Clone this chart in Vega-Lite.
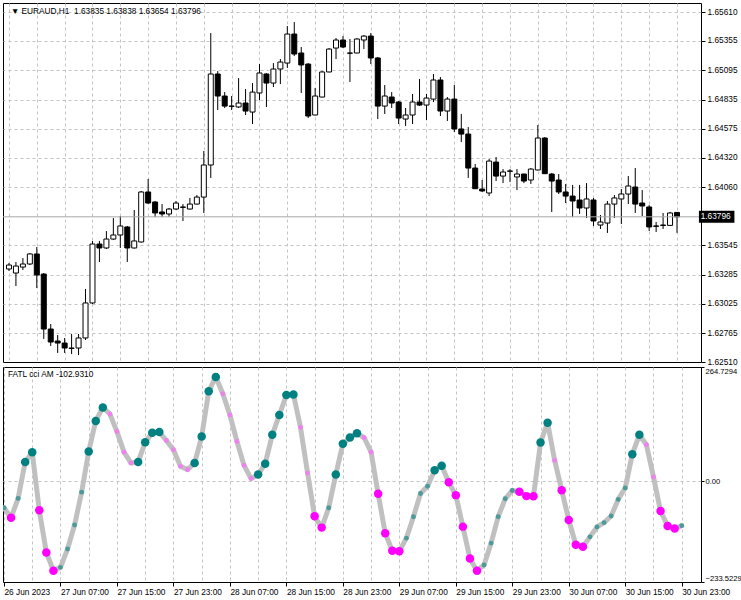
{
  "$schema": "https://vega.github.io/schema/vega-lite/v6.json",
  "background": "white",
  "padding": {"left": 2, "top": 2, "right": 0, "bottom": 0},
  "spacing": 0,
  "config": {
    "font": "Liberation Sans",
    "view": {"stroke": "#000000", "strokeWidth": 1},
    "axis": {
      "labelFont": "Liberation Sans",
      "labelFontSize": 8.3,
      "labelColor": "#000000",
      "tickColor": "#000000",
      "domain": false,
      "gridColor": "#c4c4c4",
      "gridDash": [3, 3],
      "gridWidth": 1,
      "tickCount": 200,
      "title": null
    },
    "text": {"font": "Liberation Sans", "fontSize": 8.3, "color": "#000000"}
  },
  "datasets": {
    "bars": [
      {"i":0,"t":"2023-06-26 23:00","o":1.63334,"h":1.63387,"l":1.63316,"c":1.63369,"cci":-61.5,"s":"up<0"},
      {"i":1,"t":"2023-06-27 00:00","o":1.63298,"h":1.63396,"l":1.63183,"c":1.63360,"cci":-84.5,"s":"down<0"},
      {"i":2,"t":"2023-06-27 01:00","o":1.63351,"h":1.63431,"l":1.63325,"c":1.63378,"cci":-39.8,"s":"up<0"},
      {"i":3,"t":"2023-06-27 02:00","o":1.63378,"h":1.63475,"l":1.63369,"c":1.63467,"cci":44.4,"s":"up>0"},
      {"i":4,"t":"2023-06-27 03:00","o":1.63467,"h":1.63529,"l":1.63165,"c":1.63281,"cci":67.4,"s":"up>0"},
      {"i":5,"t":"2023-06-27 04:00","o":1.63289,"h":1.63298,"l":1.62714,"c":1.62802,"cci":-67.4,"s":"down<0"},
      {"i":6,"t":"2023-06-27 05:00","o":1.62802,"h":1.62847,"l":1.62652,"c":1.62687,"cci":-165.1,"s":"down<0"},
      {"i":7,"t":"2023-06-27 06:00","o":1.62696,"h":1.62749,"l":1.62590,"c":1.62678,"cci":-207.2,"s":"down<0"},
      {"i":8,"t":"2023-06-27 07:00","o":1.62678,"h":1.62723,"l":1.62590,"c":1.62634,"cci":-199.6,"s":"up<0"},
      {"i":9,"t":"2023-06-27 08:00","o":1.62630,"h":1.62758,"l":1.62581,"c":1.62634,"cci":-157.2,"s":"up<0"},
      {"i":10,"t":"2023-06-27 09:00","o":1.62634,"h":1.62758,"l":1.62572,"c":1.62723,"cci":-101.3,"s":"up<0"},
      {"i":11,"t":"2023-06-27 10:00","o":1.62723,"h":1.63157,"l":1.62705,"c":1.63033,"cci":-25.3,"s":"up<0"},
      {"i":12,"t":"2023-06-27 11:00","o":1.63033,"h":1.63582,"l":1.63024,"c":1.63555,"cci":69.1,"s":"up>0"},
      {"i":13,"t":"2023-06-27 12:00","o":1.63555,"h":1.63582,"l":1.63396,"c":1.63520,"cci":139.7,"s":"up>0"},
      {"i":14,"t":"2023-06-27 13:00","o":1.63520,"h":1.63670,"l":1.63511,"c":1.63599,"cci":171.0,"s":"up>0"},
      {"i":15,"t":"2023-06-27 14:00","o":1.63599,"h":1.63785,"l":1.63590,"c":1.63635,"cci":155.8,"s":"down>0"},
      {"i":16,"t":"2023-06-27 15:00","o":1.63635,"h":1.63803,"l":1.63520,"c":1.63715,"cci":115.1,"s":"down>0"},
      {"i":17,"t":"2023-06-27 16:00","o":1.63706,"h":1.63715,"l":1.63396,"c":1.63520,"cci":67.4,"s":"down>0"},
      {"i":18,"t":"2023-06-27 17:00","o":1.63520,"h":1.63856,"l":1.63515,"c":1.63582,"cci":42.1,"s":"down>0"},
      {"i":19,"t":"2023-06-27 18:00","o":1.63573,"h":1.64025,"l":1.63568,"c":1.64016,"cci":44.4,"s":"up>0"},
      {"i":20,"t":"2023-06-27 19:00","o":1.64016,"h":1.64131,"l":1.63912,"c":1.63918,"cci":90.5,"s":"up>0"},
      {"i":21,"t":"2023-06-27 20:00","o":1.63927,"h":1.63936,"l":1.63794,"c":1.63830,"cci":112.5,"s":"up>0"},
      {"i":22,"t":"2023-06-27 21:00","o":1.63839,"h":1.63909,"l":1.63794,"c":1.63821,"cci":114.0,"s":"up>0"},
      {"i":23,"t":"2023-06-27 22:00","o":1.63821,"h":1.63874,"l":1.63794,"c":1.63865,"cci":94.4,"s":"down>0"},
      {"i":24,"t":"2023-06-27 23:00","o":1.63865,"h":1.63936,"l":1.63856,"c":1.63918,"cci":73.0,"s":"down>0"},
      {"i":25,"t":"2023-06-28 00:00","o":1.63883,"h":1.63909,"l":1.63759,"c":1.63880,"cci":34.5,"s":"down>0"},
      {"i":26,"t":"2023-06-28 01:00","o":1.63865,"h":1.63963,"l":1.63860,"c":1.63909,"cci":26.9,"s":"down>0"},
      {"i":27,"t":"2023-06-28 02:00","o":1.63909,"h":1.63989,"l":1.63905,"c":1.63971,"cci":42.1,"s":"up>0"},
      {"i":28,"t":"2023-06-28 03:00","o":1.63971,"h":1.64379,"l":1.63830,"c":1.64255,"cci":103.6,"s":"up>0"},
      {"i":29,"t":"2023-06-28 04:00","o":1.64255,"h":1.65424,"l":1.64140,"c":1.65061,"cci":208.8,"s":"up>0"},
      {"i":30,"t":"2023-06-28 05:00","o":1.65061,"h":1.65087,"l":1.64742,"c":1.64866,"cci":241.7,"s":"up>0"},
      {"i":31,"t":"2023-06-28 06:00","o":1.64866,"h":1.64901,"l":1.64760,"c":1.64777,"cci":202.6,"s":"down>0"},
      {"i":32,"t":"2023-06-28 07:00","o":1.64777,"h":1.64866,"l":1.64742,"c":1.64775,"cci":153.5,"s":"down>0"},
      {"i":33,"t":"2023-06-28 08:00","o":1.64769,"h":1.65025,"l":1.64760,"c":1.64804,"cci":92.1,"s":"down>0"},
      {"i":34,"t":"2023-06-28 09:00","o":1.64804,"h":1.64928,"l":1.64698,"c":1.64733,"cci":36.8,"s":"down>0"},
      {"i":35,"t":"2023-06-28 10:00","o":1.64724,"h":1.64981,"l":1.64618,"c":1.64901,"cci":6.2,"s":"down>0"},
      {"i":36,"t":"2023-06-28 11:00","o":1.64893,"h":1.65149,"l":1.64831,"c":1.65070,"cci":15.4,"s":"up>0"},
      {"i":37,"t":"2023-06-28 12:00","o":1.65061,"h":1.65070,"l":1.64769,"c":1.64981,"cci":40.7,"s":"up>0"},
      {"i":38,"t":"2023-06-28 13:00","o":1.64981,"h":1.65158,"l":1.64946,"c":1.65105,"cci":107.5,"s":"up>0"},
      {"i":39,"t":"2023-06-28 14:00","o":1.65105,"h":1.65194,"l":1.64972,"c":1.65167,"cci":153.5,"s":"up>0"},
      {"i":40,"t":"2023-06-28 15:00","o":1.65158,"h":1.65486,"l":1.65114,"c":1.65415,"cci":199.6,"s":"up>0"},
      {"i":41,"t":"2023-06-28 16:00","o":1.65415,"h":1.65521,"l":1.65220,"c":1.65238,"cci":201.0,"s":"up>0"},
      {"i":42,"t":"2023-06-28 17:00","o":1.65247,"h":1.65300,"l":1.64893,"c":1.65141,"cci":125.0,"s":"down>0"},
      {"i":43,"t":"2023-06-28 18:00","o":1.65149,"h":1.65158,"l":1.64671,"c":1.64689,"cci":19.1,"s":"down>0"},
      {"i":44,"t":"2023-06-28 19:00","o":1.64698,"h":1.64937,"l":1.64695,"c":1.64866,"cci":-81.3,"s":"down<0"},
      {"i":45,"t":"2023-06-28 20:00","o":1.64857,"h":1.65087,"l":1.64855,"c":1.65079,"cci":-107.5,"s":"down<0"},
      {"i":46,"t":"2023-06-28 21:00","o":1.65079,"h":1.65291,"l":1.65077,"c":1.65282,"cci":-61.5,"s":"up<0"},
      {"i":47,"t":"2023-06-28 22:00","o":1.65291,"h":1.65380,"l":1.65194,"c":1.65362,"cci":15.4,"s":"up>0"},
      {"i":48,"t":"2023-06-28 23:00","o":1.65362,"h":1.65397,"l":1.65291,"c":1.65300,"cci":86.8,"s":"up>0"},
      {"i":49,"t":"2023-06-29 00:00","o":1.65247,"h":1.65371,"l":1.64990,"c":1.65245,"cci":101.3,"s":"up>0"},
      {"i":50,"t":"2023-06-29 01:00","o":1.65247,"h":1.65380,"l":1.65245,"c":1.65371,"cci":111.2,"s":"up>0"},
      {"i":51,"t":"2023-06-29 02:00","o":1.65362,"h":1.65406,"l":1.65282,"c":1.65397,"cci":101.3,"s":"down>0"},
      {"i":52,"t":"2023-06-29 03:00","o":1.65397,"h":1.65424,"l":1.65149,"c":1.65203,"cci":67.4,"s":"down>0"},
      {"i":53,"t":"2023-06-29 04:00","o":1.65203,"h":1.65211,"l":1.64662,"c":1.64777,"cci":-29.2,"s":"down<0"},
      {"i":54,"t":"2023-06-29 05:00","o":1.64777,"h":1.64963,"l":1.64707,"c":1.64866,"cci":-120.4,"s":"down<0"},
      {"i":55,"t":"2023-06-29 06:00","o":1.64857,"h":1.64901,"l":1.64760,"c":1.64804,"cci":-161.1,"s":"down<0"},
      {"i":56,"t":"2023-06-29 07:00","o":1.64813,"h":1.64822,"l":1.64618,"c":1.64671,"cci":-162.0,"s":"down<0"},
      {"i":57,"t":"2023-06-29 08:00","o":1.64662,"h":1.64760,"l":1.64600,"c":1.64698,"cci":-131.9,"s":"up<0"},
      {"i":58,"t":"2023-06-29 09:00","o":1.64698,"h":1.64884,"l":1.64618,"c":1.64813,"cci":-82.2,"s":"up<0"},
      {"i":59,"t":"2023-06-29 10:00","o":1.64813,"h":1.65017,"l":1.64777,"c":1.64786,"cci":-28.3,"s":"up<0"},
      {"i":60,"t":"2023-06-29 11:00","o":1.64786,"h":1.64884,"l":1.64653,"c":1.64848,"cci":-11.5,"s":"up<0"},
      {"i":61,"t":"2023-06-29 12:00","o":1.64839,"h":1.65061,"l":1.64813,"c":1.65008,"cci":25.3,"s":"up>0"},
      {"i":62,"t":"2023-06-29 13:00","o":1.65008,"h":1.65034,"l":1.64689,"c":1.64733,"cci":36.1,"s":"up>0"},
      {"i":63,"t":"2023-06-29 14:00","o":1.64733,"h":1.64857,"l":1.64645,"c":1.64839,"cci":-2.3,"s":"down<0"},
      {"i":64,"t":"2023-06-29 15:00","o":1.64839,"h":1.64963,"l":1.64547,"c":1.64574,"cci":-32.2,"s":"down<0"},
      {"i":65,"t":"2023-06-29 16:00","o":1.64574,"h":1.64707,"l":1.64459,"c":1.64529,"cci":-105.2,"s":"down<0"},
      {"i":66,"t":"2023-06-29 17:00","o":1.64529,"h":1.64591,"l":1.64140,"c":1.64228,"cci":-178.9,"s":"down<0"},
      {"i":67,"t":"2023-06-29 18:00","o":1.64228,"h":1.64264,"l":1.64042,"c":1.64045,"cci":-207.2,"s":"down<0"},
      {"i":68,"t":"2023-06-29 19:00","o":1.64042,"h":1.64122,"l":1.64016,"c":1.64025,"cci":-194.1,"s":"up<0"},
      {"i":69,"t":"2023-06-29 20:00","o":1.64007,"h":1.64308,"l":1.63980,"c":1.64290,"cci":-143.4,"s":"up<0"},
      {"i":70,"t":"2023-06-29 21:00","o":1.64281,"h":1.64326,"l":1.64113,"c":1.64157,"cci":-82.2,"s":"up<0"},
      {"i":71,"t":"2023-06-29 22:00","o":1.64157,"h":1.64219,"l":1.64095,"c":1.64193,"cci":-40.7,"s":"up<0"},
      {"i":72,"t":"2023-06-29 23:00","o":1.64202,"h":1.64219,"l":1.64104,"c":1.64200,"cci":-21.4,"s":"up<0"},
      {"i":73,"t":"2023-06-30 00:00","o":1.64149,"h":1.64219,"l":1.64033,"c":1.64175,"cci":-24.6,"s":"down<0"},
      {"i":74,"t":"2023-06-30 01:00","o":1.64175,"h":1.64178,"l":1.64095,"c":1.64113,"cci":-34.5,"s":"down<0"},
      {"i":75,"t":"2023-06-30 02:00","o":1.64122,"h":1.64228,"l":1.64087,"c":1.64219,"cci":-35.0,"s":"down<0"},
      {"i":76,"t":"2023-06-30 03:00","o":1.64211,"h":1.64609,"l":1.64208,"c":1.64494,"cci":89.8,"s":"up>0"},
      {"i":77,"t":"2023-06-30 04:00","o":1.64494,"h":1.64503,"l":1.64175,"c":1.64178,"cci":135.8,"s":"up>0"},
      {"i":78,"t":"2023-06-30 05:00","o":1.64175,"h":1.64184,"l":1.63839,"c":1.64113,"cci":48.3,"s":"down>0"},
      {"i":79,"t":"2023-06-30 06:00","o":1.64122,"h":1.64175,"l":1.63998,"c":1.64016,"cci":-20.7,"s":"down<0"},
      {"i":80,"t":"2023-06-30 07:00","o":1.64016,"h":1.64087,"l":1.63918,"c":1.63980,"cci":-89.8,"s":"down<0"},
      {"i":81,"t":"2023-06-30 08:00","o":1.63980,"h":1.64078,"l":1.63794,"c":1.63936,"cci":-147.3,"s":"down<0"},
      {"i":82,"t":"2023-06-30 09:00","o":1.63945,"h":1.64078,"l":1.63821,"c":1.63874,"cci":-151.9,"s":"down<0"},
      {"i":83,"t":"2023-06-30 10:00","o":1.63874,"h":1.64095,"l":1.63785,"c":1.63954,"cci":-128.9,"s":"up<0"},
      {"i":84,"t":"2023-06-30 11:00","o":1.63945,"h":1.63963,"l":1.63715,"c":1.63759,"cci":-105.9,"s":"up<0"},
      {"i":85,"t":"2023-06-30 12:00","o":1.63723,"h":1.63812,"l":1.63688,"c":1.63750,"cci":-96.0,"s":"up<0"},
      {"i":86,"t":"2023-06-30 13:00","o":1.63741,"h":1.63936,"l":1.63653,"c":1.63909,"cci":-80.6,"s":"up<0"},
      {"i":87,"t":"2023-06-30 14:00","o":1.63909,"h":1.63989,"l":1.63785,"c":1.63963,"cci":-42.1,"s":"up<0"},
      {"i":88,"t":"2023-06-30 15:00","o":1.63954,"h":1.64042,"l":1.63732,"c":1.63998,"cci":-15.4,"s":"up<0"},
      {"i":89,"t":"2023-06-30 16:00","o":1.63998,"h":1.64157,"l":1.63909,"c":1.64069,"cci":62.8,"s":"up>0"},
      {"i":90,"t":"2023-06-30 17:00","o":1.64060,"h":1.64228,"l":1.63830,"c":1.63909,"cci":107.5,"s":"up>0"},
      {"i":91,"t":"2023-06-30 18:00","o":1.63918,"h":1.64033,"l":1.63803,"c":1.63892,"cci":84.5,"s":"down>0"},
      {"i":92,"t":"2023-06-30 19:00","o":1.63883,"h":1.63900,"l":1.63670,"c":1.63706,"cci":9.9,"s":"down>0"},
      {"i":93,"t":"2023-06-30 20:00","o":1.63715,"h":1.63750,"l":1.63661,"c":1.63712,"cci":-69.1,"s":"down<0"},
      {"i":94,"t":"2023-06-30 21:00","o":1.63723,"h":1.63830,"l":1.63688,"c":1.63720,"cci":-103.6,"s":"down<0"},
      {"i":95,"t":"2023-06-30 22:00","o":1.63720,"h":1.63839,"l":1.63715,"c":1.63830,"cci":-109.8,"s":"down<0"},
      {"i":96,"t":"2023-06-30 23:00","o":1.63835,"h":1.63838,"l":1.63654,"c":1.63796,"cci":-102.931,"s":"up<0"}
    ],
    "bid": [{"price": 1.63796}],
    "priceLabel": [{"label": "▼ EURAUD,H1\u00a0 1.63835 1.63838 1.63654 1.63796"}],
    "indLabel": [{"label": "FATL cci AM -102.9310"}]
  },
  "vconcat": [
    {
      "width": 698,
      "height": 359,
      "layer": [
        {
          "data": {"name": "bars"},
          "mark": {"type": "rule", "color": "#000000", "strokeWidth": 1, "clip": true},
          "encoding": {
            "x": {
              "field": "i", "type": "quantitative",
              "scale": {"domain": [-0.14, 98.73], "nice": false, "zero": false},
              "axis": {"values": [0,4,8,12,16,20,24,28,32,36,40,44,48,52,56,60,64,68,72,76,80,84,88,92,96], "labels": false, "ticks": false, "grid": true, "maxExtent": 0, "minExtent": 0, "offset": 0}
            },
            "y": {
              "field": "l", "type": "quantitative",
              "scale": {"domain": [1.6251, 1.6569], "nice": false, "zero": false},
              "axis": {
                "orient": "right",
                "values": [1.6561, 1.65355, 1.65095, 1.64835, 1.64575, 1.6432, 1.6406, 1.63545, 1.63285, 1.63025, 1.62765, 1.6251],
                "format": ".5f",
                "tickSize": 4,
                "labelPadding": 2,
                "labelOverlap": false,
                "grid": true,
                "gridOpacity": {"condition": {"test": "datum.value < 1.626", "value": 0}, "value": 1}
              }
            },
            "y2": {"field": "h"}
          }
        },
        {
          "data": {"name": "bars"},
          "mark": {"type": "bar", "size": 5, "stroke": "#000000", "strokeWidth": 1, "clip": true},
          "encoding": {
            "x": {"field": "i", "type": "quantitative"},
            "y": {"field": "o", "type": "quantitative"},
            "y2": {"field": "c"},
            "fill": {"condition": {"test": "datum.c > datum.o", "value": "#ffffff"}, "value": "#000000"}
          }
        },
        {
          "data": {"name": "bid"},
          "mark": {"type": "rule", "color": "#a8a8a8", "strokeWidth": 1},
          "encoding": {"y": {"field": "price", "type": "quantitative"}}
        },
        {
          "data": {"name": "bid"},
          "mark": {"type": "rect", "color": "#000000", "yOffset": -6, "y2Offset": 6},
          "encoding": {
            "x": {"datum": 99.15},
            "x2": {"datum": 104.25},
            "y": {"field": "price", "type": "quantitative"},
            "y2": {"field": "price"}
          }
        },
        {
          "data": {"name": "bid"},
          "mark": {"type": "text", "color": "#ffffff", "align": "left", "baseline": "middle", "fontSize": 8.3},
          "encoding": {
            "x": {"datum": 99.4},
            "y": {"field": "price", "type": "quantitative"},
            "text": {"field": "price", "format": ".5f"}
          }
        },
        {
          "data": {"name": "priceLabel"},
          "mark": {"type": "text", "align": "left", "baseline": "middle", "dx": 3, "dy": 9},
          "encoding": {
            "x": {"datum": -0.14},
            "y": {"datum": 1.6569},
            "text": {"field": "label"}
          }
        }
      ]
    },
    {
      "width": 698,
      "height": 215,
      "layer": [
        {
          "data": {"name": "bars"},
          "mark": {"type": "line", "color": "#c0c0c0", "strokeWidth": 5, "strokeCap": "round", "strokeJoin": "round", "clip": true},
          "encoding": {
            "x": {
              "field": "i", "type": "quantitative",
              "scale": {"domain": [-0.14, 98.73], "nice": false, "zero": false},
              "axis": {
                "values": [0,4,8,12,16,20,24,28,32,36,40,44,48,52,56,60,64,68,72,76,80,84,88,92,96],
                "labelExpr": "datum.value % 8 == 0 ? ['26 Jun 2023','27 Jun 07:00','27 Jun 15:00','27 Jun 23:00','28 Jun 07:00','28 Jun 15:00','28 Jun 23:00','29 Jun 07:00','29 Jun 15:00','29 Jun 23:00','30 Jun 07:00','30 Jun 15:00','30 Jun 23:00'][datum.value / 8] : ''",
                "labelAlign": "left",
                "labelFlush": false,
                "labelOverlap": false,
                "labelBound": false,
                "labelPadding": 1,
                "tickSize": 4,
                "tickOpacity": {"condition": {"test": "datum.value % 8 == 0", "value": 1}, "value": 0},
                "grid": true
              }
            },
            "y": {
              "field": "cci", "type": "quantitative",
              "scale": {"domain": [-233.5229, 264.7294], "nice": false, "zero": false},
              "axis": {
                "orient": "right",
                "values": [264.7294, 0, -233.5229],
                "labelExpr": "datum.value == 0 ? '0.00' : format(datum.value, '.4f')",
                "labelFlush": true,
                "labelOverlap": false,
                "labelFontSize": 7.6,
                "tickSize": 3,
                "labelPadding": 1,
                "grid": true,
                "gridOpacity": {"condition": {"test": "datum.value == 0", "value": 1}, "value": 0}
              }
            }
          }
        },
        {
          "data": {"name": "bars"},
          "mark": {"type": "point", "shape": "circle", "filled": true, "opacity": 1, "clip": true},
          "encoding": {
            "x": {"field": "i", "type": "quantitative"},
            "y": {"field": "cci", "type": "quantitative"},
            "color": {
              "field": "s", "type": "nominal",
              "scale": {"domain": ["up>0", "up<0", "down>0", "down<0"], "range": ["#008080", "#4d9a9a", "#ee82ee", "#ff00ff"]},
              "legend": null
            },
            "size": {
              "condition": {"test": "datum.s == 'up>0' || datum.s == 'down<0'", "value": 72},
              "value": 24
            }
          }
        },
        {
          "data": {"name": "indLabel"},
          "mark": {"type": "text", "align": "left", "baseline": "middle", "dx": 5, "dy": 8},
          "encoding": {
            "x": {"datum": -0.14},
            "y": {"datum": 264.7294},
            "text": {"field": "label"}
          }
        }
      ]
    }
  ]
}
